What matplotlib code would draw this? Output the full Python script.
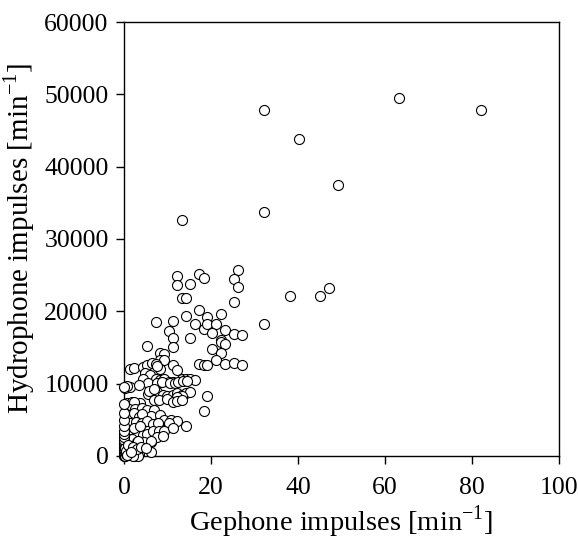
import glob
import matplotlib
matplotlib.use("Agg")
import matplotlib.pyplot as plt
from matplotlib import font_manager

# Gephone impulses [min-1]
geophone = [
    82.1, 63.2, 32.2, 40.2, 49.2, 32.2, 13.3, 38.2, 45.1, 47.1, 32.2,
    12.3, 12.3, 15.2, 17.2, 18.3, 26.2, 25.2, 26.2, 25.2, 13.3, 14.3, 17.2,
    7.3, 11.3, 14.3, 19.2, 22.2, 16.3, 18.3, 19.2, 21.2, 20.3, 23.3, 25.3,
    27.2, 10.3, 11.3, 11.3, 15.2, 22.2, 22.4, 23.3, 20.2, 22.2, 21.2, 5.4,
    8.3, 9.3, 8.3, 9.3, 17.2, 18.3, 19.2, 23.3, 25.3, 27.2, 11.3,
    1.4, 2.4, 4.4, 5.4, 6.4, 7.3, 8.3, 12.3, 4.9, 6.0, 4.4, 7.3, 8.3, 9.3,
    10.3, 11.3, 13.3, 14.3, 15.2, 16.3,
    5.6, 7.5, 8.7, 10.6, 11.7, 12.5, 13.6, 14.4,
    0.3, 1.4, 3.4, 0.6,
    5.6, 7.5, 8.9, 9.9, 11.3, 12.3, 13.3, 14.3, 15.2, 19.2, 13.3, 12.3,
    6.8, 8.1, 10.0, 11.3, 12.3, 13.3,
    0.6, 1.9, 3.7, 2.4,
    1.1, 2.6, 4.1, 5.3, 7.0, 18.3,
    6.3, 8.3, 9.3, 10.9, 12.3, 10.3,
    0.5, 1.4, 2.4, 3.4, 4.1,
    0.5, 1.4, 2.8, 4.1, 5.2, 6.6, 7.8,
    0.5, 1.9, 3.1, 4.3, 5.4, 6.6, 8.1, 9.3,
    7.5, 8.9, 11.3, 14.3,
    0.5, 1.8, 3.0, 4.7, 6.3,
    0, 0, 0, 0, 0, 0, 0, 0, 0, 0, 0, 0, 0, 0, 0, 0, 0, 0,
    0.3, 0.5, 1.2, 2.4, 3.4, 6.1, 0.2, 0.4, 6.1, 3.3, 3.3, 2.1,
    1.0, 2.0, 3.0, 4.0, 5.0, 0.8, 1.6, 2.2, 3.6, 5.8, 6.9, 7.7,
]

# Hydrophone impulses [min-1]
hydrophone = [
    47800, 49500, 47800, 43800, 37500, 33700, 32600, 22100, 22100, 23200, 18250,
    24900, 23700, 23800, 25200, 24650, 25700, 24400, 23300, 21300, 21800, 21800, 20200,
    18500, 18650, 19400, 19170, 19600, 18300, 17600, 18300, 18250, 17000, 17400, 16800,
    16700, 17300, 16350, 15100, 16270, 16000, 15700, 15500, 14800, 14300, 13270, 15200,
    14200, 14150, 13270, 13270, 12760, 12580, 12580, 12650, 12900, 12600, 12580,
    12000, 12100, 12300, 12600, 12900, 12700, 12000, 11850, 11500, 11200, 10600, 10600, 10500, 10600,
    10200, 10200, 10600, 10600, 10600, 10500,
    10100, 10100, 10200, 10100, 10100, 10200, 10300, 10300,
    9360, 9580, 9820, 9700,
    8600, 8800, 8500, 8300, 8500, 8700, 8500, 8700, 8900, 8340, 8300, 8200,
    7700, 7700, 7900, 7500, 7600, 7800,
    7300, 7500, 7300, 7400,
    6500, 6500, 6700, 6300, 6400, 6200,
    5500, 5600, 5000, 5000, 4900, 4500,
    5800, 5600, 5900, 5400, 5800,
    4700, 4500, 4700, 4600, 4900, 4400, 4500,
    3400, 3600, 3200, 2900, 3000, 3400, 3500, 3500,
    2600, 2700, 3900, 4150,
    2500, 2300, 2000, 1900, 2000,
    0, 200, 400, 600, 800, 1000, 1300, 1600, 1900, 2200, 2600, 3000, 3500, 4100, 5000, 6000, 7200, 9500,
    0, 300, 100, 0, 300, 600, 1100, 700, 2100, 2100, 0, 0,
    1500, 1200, 900, 1300, 1100, 200, 600, 3900, 4200, 9000, 9300, 12400,
]

x_ticks = [0, 20, 40, 60, 80, 100]
y_ticks = [0, 10000, 20000, 30000, 40000, 50000, 60000]

# register Liberation Serif files by hand in case the cache misses them
for f in glob.glob('/usr/share/fonts/**/LiberationSerif*.ttf', recursive=True):
    font_manager.fontManager.addfont(f)
names = {f.name for f in font_manager.fontManager.ttflist}
serif = 'Liberation Serif' if 'Liberation Serif' in names else 'DejaVu Serif'

plt.rcParams['font.family'] = [serif, 'DejaVu Serif']
plt.rcParams['mathtext.fontset'] = 'custom'
plt.rcParams['mathtext.rm'] = serif

fig = plt.figure(figsize=(5.78, 5.42), dpi=100)
ax = fig.add_axes([0.2145, 0.1587, 0.7525, 0.8007])

ax.scatter(geophone, hydrophone, s=52, facecolors='white', edgecolors='black',
           linewidths=0.8, zorder=3, clip_on=False)

ax.set_xlim(0, 100)
ax.set_ylim(0, 60000)
ax.set_xticks(x_ticks)
ax.set_yticks(y_ticks)
ax.tick_params(direction='out', length=6, width=1, labelsize=18.5, pad=5)
ax.tick_params(axis='x', pad=9)
for s in ax.spines.values():
    s.set_linewidth(1)

ax.set_xlabel('Gephone impulses [min$^{\\mathrm{-1}}$]', fontsize=20.5, labelpad=3)
ax.set_ylabel('Hydrophone impulses [min$^{\\mathrm{-1}}$]', fontsize=21, labelpad=5)

fig.savefig('out.png', dpi=100)
